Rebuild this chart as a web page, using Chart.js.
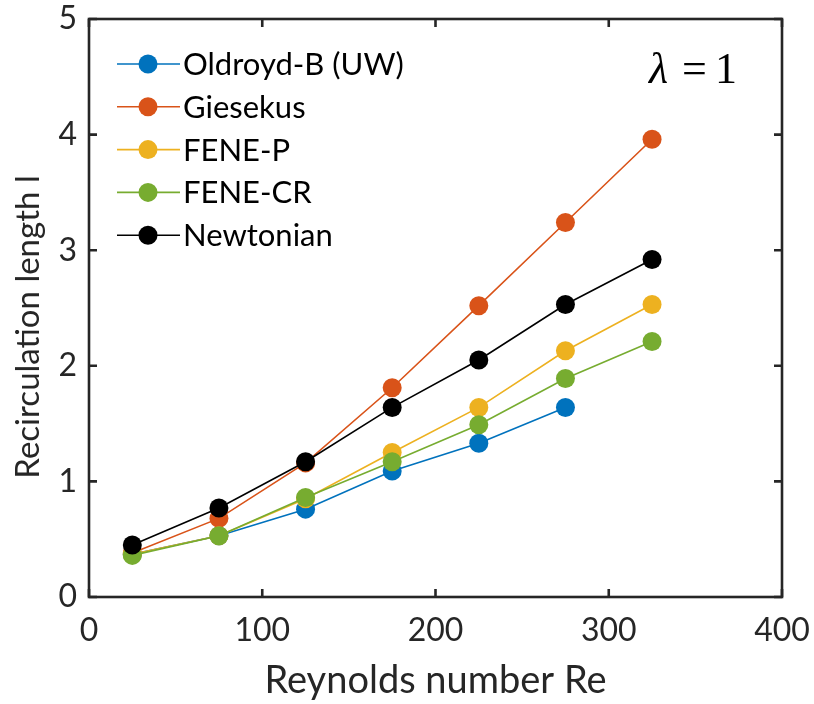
<!DOCTYPE html>
<html>
<head>
<meta charset="utf-8">
<script src="https://cdn.jsdelivr.net/npm/chart.js"></script>
<style>
  html, body { margin: 0; padding: 0; background: #fff; }
  #wrap { width: 814px; height: 704px; }
</style>
</head>
<body>
<div id="wrap"><canvas id="c" width="814" height="704"></canvas></div>
<script>
// Reynolds numbers on the x axis
const reynolds = [25, 75, 125, 175, 225, 275, 325];

// recirculation length per model
const oldroydB = [0.37, 0.53, 0.76, 1.09, 1.33, 1.64];
const giesekus = [0.38, 0.68, 1.16, 1.81, 2.52, 3.24, 3.96];
const feneP = [0.37, 0.53, 0.85, 1.25, 1.64, 2.13, 2.53];
const feneCR = [0.36, 0.53, 0.86, 1.17, 1.49, 1.89, 2.21];
const newtonian = [0.45, 0.77, 1.17, 1.64, 2.05, 2.53, 2.92];

const seriesNames = ['Oldroyd-B (UW)', 'Giesekus', 'FENE-P', 'FENE-CR', 'Newtonian'];
const seriesColors = ['#0072BD', '#D95319', '#EDB120', '#77AC30', '#000000'];
const seriesValues = [oldroydB, giesekus, feneP, feneCR, newtonian];

const xTicks = [0, 100, 200, 300, 400];
const yTicks = [0, 1, 2, 3, 4, 5];
const yTitle = 'Recirculation length l';

const ink = '#262626';
const font = 'Lato, "Open Sans", sans-serif';

const datasets = seriesNames.map((name, i) => ({
  label: name,
  data: seriesValues[i].map((v, j) => ({ x: reynolds[j], y: v })),
  borderColor: seriesColors[i],
  backgroundColor: seriesColors[i],
  borderWidth: 1.6,
  pointRadius: 9.5,
  pointHoverRadius: 9.5,
  pointBorderWidth: 0,
  order: seriesNames.length - i,
}));

// box + inward ticks on all four sides, like MATLAB "box on"
const frame = {
  id: 'frame',
  afterDatasetsDraw(chart) {
    const { ctx, chartArea: a, scales } = chart;
    ctx.save();
    ctx.strokeStyle = ink;
    ctx.lineWidth = 2.6;
    ctx.strokeRect(a.left, a.top, a.right - a.left, a.bottom - a.top);
    const len = 8;
    ctx.beginPath();
    xTicks.forEach((t) => {
      const px = scales.x.getPixelForValue(t);
      ctx.moveTo(px, a.bottom); ctx.lineTo(px, a.bottom - len);
      ctx.moveTo(px, a.top); ctx.lineTo(px, a.top + len);
    });
    yTicks.forEach((t) => {
      const py = scales.y.getPixelForValue(t);
      ctx.moveTo(a.left, py); ctx.lineTo(a.left + len, py);
      ctx.moveTo(a.right, py); ctx.lineTo(a.right - len, py);
    });
    ctx.stroke();

    // y axis title (MATLAB sits it a little below centre)
    ctx.save();
    ctx.translate(28, (a.top + a.bottom) / 2 + 19);
    ctx.rotate(-Math.PI / 2);
    ctx.fillStyle = ink;
    ctx.font = '33px ' + font;
    ctx.textAlign = 'center';
    ctx.textBaseline = 'middle';
    ctx.fillText(yTitle, 0, 0);
    ctx.restore();
    ctx.restore();
  },
};

// legend drawn inside the axes (line + marker + label), no box
const insideLegend = {
  id: 'insideLegend',
  afterDatasetsDraw(chart) {
    const { ctx, chartArea: a } = chart;
    ctx.save();
    ctx.font = '31px ' + font;
    ctx.textBaseline = 'middle';
    ctx.textAlign = 'left';
    seriesNames.forEach((name, i) => {
      const y = a.top + 45 + i * 42.8;
      const x0 = a.left + 28;
      ctx.strokeStyle = seriesColors[i];
      ctx.lineWidth = 1.6;
      ctx.beginPath();
      ctx.moveTo(x0, y); ctx.lineTo(x0 + 63, y);
      ctx.stroke();
      ctx.fillStyle = seriesColors[i];
      ctx.beginPath();
      ctx.arc(x0 + 31, y, 9.5, 0, Math.PI * 2);
      ctx.fill();
      ctx.fillStyle = '#000';
      ctx.fillText(name, x0 + 66, y + 1);
    });
    // lambda = 1 annotation
    ctx.textBaseline = 'alphabetic';
    ctx.fillStyle = '#000';
    ctx.font = 'italic 44px "Liberation Serif", serif';
    ctx.fillText('\u03bb', a.right - 133, a.top + 64);
    ctx.font = '44px "Liberation Serif", serif';
    ctx.fillText('=', a.right - 100, a.top + 64);
    ctx.fillText('1', a.right - 67, a.top + 64);
    ctx.restore();
  },
};

new Chart(document.getElementById('c'), {
  type: 'line',
  data: { datasets },
  options: {
    responsive: false,
    animation: false,
    layout: { padding: { left: 0, right: 32, top: 19, bottom: 0 } },
    plugins: { legend: { display: false }, tooltip: { enabled: false } },
    scales: {
      x: {
        type: 'linear',
        min: 0,
        max: 400,
        afterBuildTicks: (s) => { s.ticks = xTicks.map((v) => ({ value: v })); },
        afterFit: (s) => { s.height = 107; s.paddingLeft = 0; s.paddingRight = 0; },
        grid: { display: false, drawTicks: false },
        border: { display: false },
        ticks: { color: ink, font: { family: font, size: 32 }, padding: 14, maxRotation: 0 },
        title: { display: true, text: 'Reynolds number Re', color: ink, font: { family: font, size: 38 }, padding: { top: 0, bottom: 0 } },
      },
      y: {
        min: 0,
        max: 5,
        afterBuildTicks: (s) => { s.ticks = yTicks.map((v) => ({ value: v })); },
        afterFit: (s) => { s.width = 89; s.paddingTop = 0; s.paddingBottom = 0; },
        grid: { display: false, drawTicks: false },
        border: { display: false },
        ticks: { color: ink, font: { family: font, size: 32 }, padding: 12 },
        title: { display: false },
      },
    },
  },
  plugins: [frame, insideLegend],
});
</script>
</body>
</html>
